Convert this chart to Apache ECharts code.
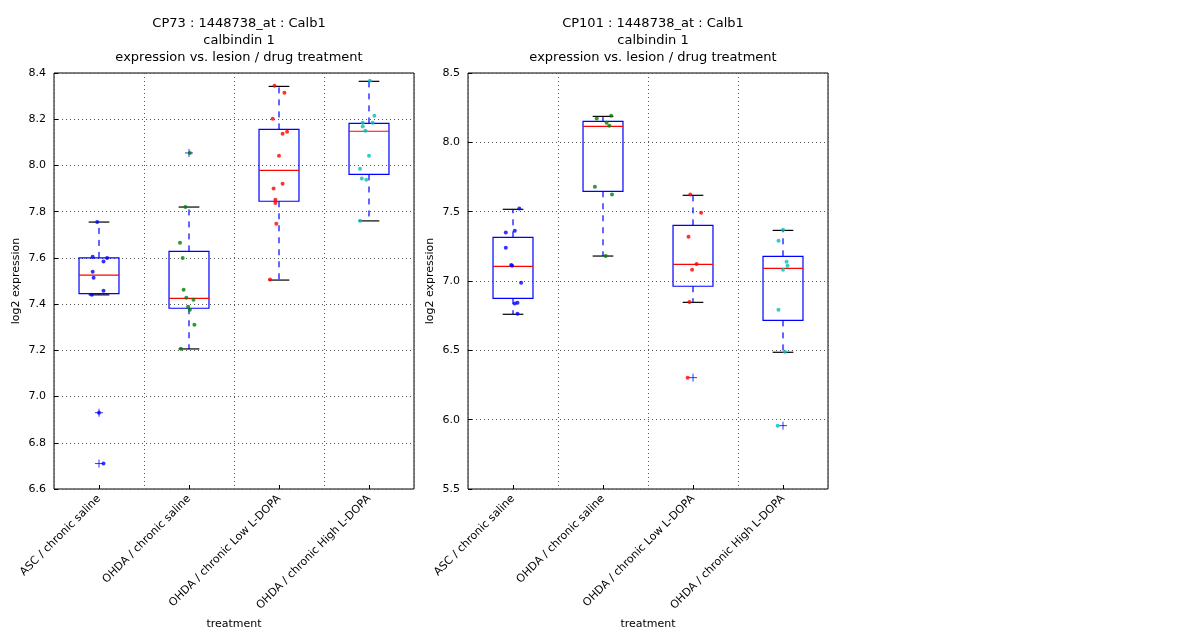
<!DOCTYPE html>
<html>
<head>
<meta charset="utf-8">
<script src="https://cdn.jsdelivr.net/npm/echarts@6/dist/echarts.min.js"></script>
<style>html,body{margin:0;background:#fff}#c{width:1200px;height:640px}</style>
</head>
<body>
<div id="c"></div>
<script>
const categories = ["ASC / chronic saline", "OHDA / chronic saline", "OHDA / chronic Low L-DOPA", "OHDA / chronic High L-DOPA"];
const groupColors = ["#0000ff", "#008000", "#ff0000", "#00bfbf"];

// points: [jitter offset (category units), value]
const leftPoints = [
  [[-0.02, 7.755], [-0.07, 7.605], [0.09, 7.60], [0.05, 7.584], [-0.07, 7.54], [-0.06, 7.514], [0.05, 7.458], [-0.08, 7.44], [0.0, 6.93], [0.05, 6.71]],
  [[0.01, 8.054], [-0.04, 7.82], [-0.10, 7.666], [-0.07, 7.60], [-0.06, 7.462], [-0.03, 7.428], [0.05, 7.419], [-0.01, 7.389], [0.01, 7.376], [0.06, 7.311], [-0.09, 7.207]],
  [[-0.05, 8.345], [0.06, 8.315], [-0.07, 8.202], [0.04, 8.137], [0.09, 8.146], [0.0, 8.042], [0.04, 7.921], [-0.06, 7.90], [-0.04, 7.852], [-0.04, 7.837], [-0.03, 7.748], [-0.10, 7.506]],
  [[0.01, 8.367], [0.06, 8.215], [-0.07, 8.185], [0.04, 8.185], [-0.07, 8.168], [-0.04, 8.15], [0.0, 8.042], [-0.10, 7.986], [-0.08, 7.943], [-0.03, 7.938], [-0.10, 7.761]]
];
// boxes: [whiskerLow, q1, median, q3, whiskerHigh]
const leftBoxes = [
  [7.44, 7.445, 7.525, 7.60, 7.755],
  [7.206, 7.382, 7.425, 7.628, 7.82],
  [7.504, 7.845, 7.979, 8.156, 8.342],
  [7.76, 7.961, 8.148, 8.182, 8.364]
];
const leftOutliers = [[0, 6.93], [0, 6.71], [1, 8.054]];

const rightPoints = [
  [[0.07, 7.522], [-0.08, 7.349], [0.02, 7.363], [-0.08, 7.24], [-0.02, 7.115], [-0.01, 7.11], [0.09, 6.988], [0.02, 6.837], [0.05, 6.844], [0.05, 6.764]],
  [[0.09, 8.192], [-0.07, 8.171], [0.04, 8.142], [0.07, 8.12], [-0.09, 7.68], [0.10, 7.623], [0.03, 7.18]],
  [[-0.03, 7.623], [0.09, 7.493], [-0.05, 7.32], [0.04, 7.123], [-0.01, 7.082], [-0.04, 6.849], [-0.06, 6.303]],
  [[0.0, 7.37], [-0.05, 7.291], [0.04, 7.139], [0.05, 7.11], [0.0, 7.082], [-0.05, 6.793], [0.02, 6.49], [-0.06, 5.957]]
];
const rightBoxes = [
  [6.76, 6.875, 7.106, 7.315, 7.517],
  [7.18, 7.647, 8.115, 8.151, 8.187],
  [6.846, 6.962, 7.12, 7.401, 7.618],
  [6.486, 6.716, 7.091, 7.178, 7.365]
];
const rightOutliers = [[2, 6.303], [3, 5.957]];

const titles = [
  "CP73 : 1448738_at : Calb1\ncalbindin 1\nexpression vs. lesion / drug treatment",
  "CP101 : 1448738_at : Calb1\ncalbindin 1\nexpression vs. lesion / drug treatment"
];
const yRanges = [[6.6, 8.4, 0.2], [5.5, 8.5, 0.5]];

const font = "DejaVu Sans";
const grids = [{ left: 54, top: 73, width: 360, height: 416 }, { left: 468, top: 73, width: 360, height: 416 }];

function boxSeries(gi, boxes) {
  return {
    type: "custom",
    xAxisIndex: gi * 2,
    yAxisIndex: gi,
    z: 2,
    data: boxes.map((b, i) => [i + 0.5, ...b]),
    renderItem: (params, api) => {
      const x = api.value(0);
      const [lo, q1, med, q3, hi] = [1, 2, 3, 4, 5].map((k) => api.value(k));
      const hw = api.size([0.222, 0])[0];
      const cw = api.size([0.115, 0])[0];
      const p = (v) => api.coord([x, v]);
      const c = p(med)[0];
      const yq1 = p(q1)[1], yq3 = p(q3)[1], ym = p(med)[1], ylo = p(lo)[1], yhi = p(hi)[1];
      const dash = { stroke: "#0000ff", lineWidth: 1.2, lineDash: [6, 6] };
      return {
        type: "group",
        children: [
          { type: "line", shape: { x1: c, y1: yq3, x2: c, y2: yhi }, style: dash },
          { type: "line", shape: { x1: c, y1: yq1, x2: c, y2: ylo }, style: dash },
          { type: "line", shape: { x1: c - cw, y1: yhi, x2: c + cw, y2: yhi }, style: { stroke: "#000", lineWidth: 1.2 } },
          { type: "line", shape: { x1: c - cw, y1: ylo, x2: c + cw, y2: ylo }, style: { stroke: "#000", lineWidth: 1.2 } },
          { type: "rect", shape: { x: c - hw, y: yq3, width: 2 * hw, height: yq1 - yq3 }, style: { fill: "none", stroke: "#0000ff", lineWidth: 1.2 } },
          { type: "line", shape: { x1: c - hw, y1: ym, x2: c + hw, y2: ym }, style: { stroke: "#ff0000", lineWidth: 1.2 } }
        ]
      };
    }
  };
}

function pointSeries(gi, groups) {
  return groups.map((g, i) => ({
    type: "scatter",
    xAxisIndex: gi * 2,
    yAxisIndex: gi,
    symbolSize: 4,
    z: 4,
    itemStyle: { color: groupColors[i] },
    data: g.map((p) => [i + 0.5 + p[0], p[1]])
  }));
}

function outlierSeries(gi, outs) {
  return {
    type: "scatter",
    xAxisIndex: gi * 2,
    yAxisIndex: gi,
    symbol: "path://M5,0L5,10M0,5L10,5",
    symbolSize: 8,
    z: 3,
    itemStyle: { color: "none", borderColor: "#0000ff", borderWidth: 1 },
    data: outs.map((o) => [o[0] + 0.5, o[1]])
  };
}

const xAxes = [], yAxes = [];
grids.forEach((g, gi) => {
  xAxes.push({
    type: "value", gridIndex: gi, min: 0, max: 4, interval: 1,
    axisLabel: { show: false }, axisTick: { show: false },
    axisLine: { show: false },
    splitLine: { show: true, lineStyle: { color: "#555", type: [1, 3] } }
  });
  xAxes.push({
    type: "category", gridIndex: gi, data: categories, position: "bottom",
    axisLine: { show: false },
    axisTick: { show: true, inside: true, alignWithLabel: true, length: 4, lineStyle: { color: "#000" } },
    axisLabel: { rotate: 45, fontFamily: font, fontSize: 11, color: "#000", margin: 8, interval: 0 },
    name: "treatment", nameLocation: "middle", nameGap: 128,
    nameTextStyle: { fontFamily: font, fontSize: 11, color: "#000" }
  });
  const [mn, mx, iv] = yRanges[gi];
  yAxes.push({
    type: "value", gridIndex: gi, min: mn, max: mx, interval: iv,
    axisLine: { show: false },
    axisTick: { show: true, inside: true, length: 4, lineStyle: { color: "#000" } },
    axisLabel: { fontFamily: font, fontSize: 11, color: "#000", formatter: (v) => v.toFixed(1) },
    splitLine: { show: true, lineStyle: { color: "#555", type: [1, 3] } },
    name: "log2 expression", nameLocation: "middle", nameGap: 32,
    nameTextStyle: { fontFamily: font, fontSize: 11, color: "#000" }
  });
});

const chart = echarts.init(document.getElementById("c"));
chart.setOption({
  animation: false,
  backgroundColor: "#fff",
  title: titles.map((t, i) => ({
    text: t, left: grids[i].left + 180, top: 10, textAlign: "center",
    textStyle: { fontFamily: font, fontSize: 13, fontWeight: "normal", color: "#000", lineHeight: 17 }
  })),
  grid: grids.map((g) => ({ ...g, show: true, borderColor: "#000", borderWidth: 1, backgroundColor: "transparent" })),
  xAxis: xAxes,
  yAxis: yAxes,
  series: [
    boxSeries(0, leftBoxes), ...pointSeries(0, leftPoints), outlierSeries(0, leftOutliers),
    boxSeries(1, rightBoxes), ...pointSeries(1, rightPoints), outlierSeries(1, rightOutliers)
  ]
});
</script>
</body>
</html>
